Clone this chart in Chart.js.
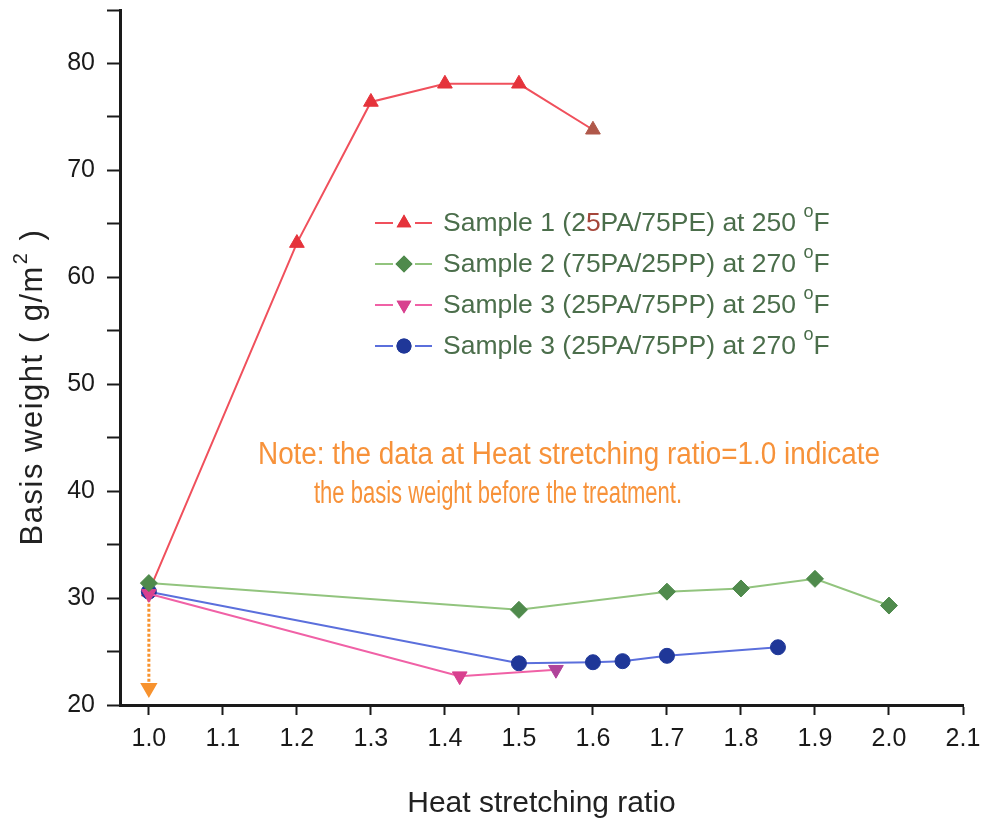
<!DOCTYPE html>
<html>
<head>
<meta charset="utf-8">
<script src="https://cdn.jsdelivr.net/npm/chart.js@4.4.1/dist/chart.umd.min.js"></script>
<style>
  html, body { margin: 0; padding: 0; background: #ffffff; }
  #wrap { width: 987px; height: 822px; position: relative; }
</style>
</head>
<body>
<div id="wrap"><canvas id="c" width="987" height="822"></canvas></div>
<script>
// ---- data ----
const xTickValues = [1.0, 1.1, 1.2, 1.3, 1.4, 1.5, 1.6, 1.7, 1.8, 1.9, 2.0, 2.1];
const yTickLabels = [20, 30, 40, 50, 60, 70, 80];

const s1Label = 'Sample 1 (25PA/75PE) at 250 °F';
const s1X = [1.0, 1.2, 1.3, 1.4, 1.5, 1.6];
const s1Y = [30.6, 63.2, 76.4, 78.1, 78.1, 73.8];

const s2Label = 'Sample 2 (75PA/25PP) at 270 °F';
const s2X = [1.0, 1.5, 1.7, 1.8, 1.9, 2.0];
const s2Y = [31.4, 28.9, 30.6, 30.9, 31.8, 29.3];

const s3Label = 'Sample 3 (25PA/75PP) at 250 °F';
const s3X = [1.0, 1.42, 1.55];
const s3Y = [30.4, 22.7, 23.3];

const s4Label = 'Sample 3 (25PA/75PP) at 270 °F';
const s4X = [1.0, 1.5, 1.6, 1.64, 1.7, 1.85];
const s4Y = [30.6, 23.9, 24.0, 24.1, 24.6, 25.4];

const arrowX = [1.0, 1.0];
const arrowY = [30.4, 21.6];

const noteLines = ['Note: the data at Heat stretching ratio=1.0 indicate', 'the basis weight before the treatment.'];
const yTitle = 'Basis weight ( g/m';
const yTitleSup = '2';
const yTitleEnd = ' )';

function pts(xs, ys) { return xs.map((x, i) => ({ x: x, y: ys[i] })); }

const FONT = "'Liberation Sans', Arial, sans-serif";

const styles = [
  { line: '#f0505c', fill: '#e5333b', last: '#b0584a', shape: 'triangle', r: 8.5, rot: 0 },
  { line: '#92c47e', fill: '#4f8a4c', last: '#4f8a4c', shape: 'rectRot', r: 8.5, rot: 0 },
  { line: '#f061a6', fill: '#d8418f', last: '#b0439a', shape: 'triangle', r: 8.5, rot: 180 },
  { line: '#5b6fdc', fill: '#1f3798', last: '#1f3798', shape: 'circle', r: 7.5, rot: 0 }
];

const datasets = [
  { label: s2Label, data: pts(s2X, s2Y), st: styles[1] },
  { label: s3Label, data: pts(s3X, s3Y), st: styles[2] },
  { label: s4Label, data: pts(s4X, s4Y), st: styles[3] },
  { label: s1Label, data: pts(s1X, s1Y), st: styles[0] }
].map(d => {
  const n = d.data.length;
  const pc = (c) => (c.dataIndex === n - 1 ? d.st.last : d.st.fill);
  return {
    label: d.label,
    data: d.data,
    showLine: true,
    borderColor: d.st.line,
    borderWidth: 2,
    backgroundColor: d.st.fill,
    pointBackgroundColor: pc,
    pointBorderColor: pc,
    pointBorderWidth: 1,
    pointStyle: d.st.shape,
    pointRadius: d.st.r,
    pointRotation: d.st.rot,
    tension: 0
  };
});

datasets.push({
  label: 'arrow',
  data: pts(arrowX, arrowY),
  showLine: true,
  borderColor: '#f7922e',
  borderWidth: 3,
  borderDash: [3, 2],
  pointStyle: 'triangle',
  pointRotation: 180,
  pointRadius: [0, 7],
  pointBackgroundColor: '#f7922e',
  pointBorderColor: '#f7922e'
});

const overlayPlugin = {
  id: 'overlay',
  afterDatasetsDraw(chart) {
    const ctx = chart.ctx;
    ctx.save();
    // legend
    const rowsY = [223, 264, 305, 346];
    const lx0 = 375, lx1 = 432, mx = 404, tx = 443;
    const legendTexts = [
      ['Sample 1 (2', '5', 'PA/75PE) at 250 '],
      ['Sample 2 (75PA/25PP) at 270 '],
      ['Sample 3 (25PA/75PP) at 250 '],
      ['Sample 3 (25PA/75PP) at 270 ']
    ];
    rowsY.forEach((y, i) => {
      const st = styles[i];
      ctx.strokeStyle = st.line;
      ctx.lineWidth = 2;
      ctx.beginPath(); ctx.moveTo(lx0, y); ctx.lineTo(mx - 11, y); ctx.stroke();
      ctx.beginPath(); ctx.moveTo(mx + 11, y); ctx.lineTo(lx1, y); ctx.stroke();
      ctx.fillStyle = st.fill;
      Chart.helpers.drawPoint(ctx, { pointStyle: st.shape, radius: st.r, rotation: st.rot, borderWidth: 0 }, mx, y);
      ctx.fill();
      ctx.font = '26.5px ' + FONT;
      ctx.textBaseline = 'middle';
      ctx.textAlign = 'left';
      let x = tx;
      const parts = legendTexts[i];
      parts.forEach((p, k) => {
        ctx.fillStyle = (parts.length === 3 && k === 1) ? '#a5463a' : '#4b6e4b';
        ctx.fillText(p, x, y + 1);
        x += ctx.measureText(p).width;
      });
      ctx.fillStyle = '#4b6e4b';
      ctx.font = '18px ' + FONT;
      ctx.fillText('o', x, y - 11);
      x += ctx.measureText('o').width;
      ctx.font = '26.5px ' + FONT;
      ctx.fillText('F', x, y + 1);
    });
    // note
    ctx.fillStyle = '#f7923a';
    ctx.font = '31px ' + FONT;
    ctx.textAlign = 'center';
    ctx.textBaseline = 'middle';
    ctx.fillText(noteLines[0], 569, 455, 622);
    ctx.fillText(noteLines[1], 498, 494, 368);
    // y title
    ctx.save();
    ctx.translate(33, 388);
    ctx.rotate(-Math.PI / 2);
    ctx.fillStyle = '#222222';
    ctx.textAlign = 'left';
    ctx.textBaseline = 'middle';
    try { ctx.letterSpacing = '1.5px'; } catch (e) {}
    ctx.font = '31px ' + FONT;
    const w1 = ctx.measureText(yTitle).width;
    ctx.font = '20px ' + FONT;
    const w2 = ctx.measureText(yTitleSup).width;
    ctx.font = '31px ' + FONT;
    const w3 = ctx.measureText(yTitleEnd).width;
    let sx = -(w1 + w2 + w3) / 2;
    ctx.fillText(yTitle, sx, 0);
    sx += w1;
    ctx.font = '20px ' + FONT;
    ctx.fillText(yTitleSup, sx + 1, -12);
    sx += w2 + 2;
    ctx.font = '31px ' + FONT;
    ctx.fillText(yTitleEnd, sx, 0);
    ctx.restore();
    ctx.restore();
  }
};

new Chart(document.getElementById('c'), {
  type: 'scatter',
  data: { datasets: datasets },
  plugins: [overlayPlugin],
  options: {
    responsive: false,
    animation: false,
    devicePixelRatio: 1,
    layout: { padding: { top: 10, right: 24, left: 0, bottom: 0 } },
    plugins: {
      legend: { display: false },
      tooltip: { enabled: false }
    },
    scales: {
      x: {
        type: 'linear',
        min: 0.961,
        max: 2.1,
        border: { display: true, color: '#1a1a1a', width: 3 },
        grid: { drawOnChartArea: false, drawTicks: true, tickLength: 10, tickColor: '#1a1a1a', tickWidth: 2 },
        afterBuildTicks(scale) { scale.ticks = xTickValues.map(v => ({ value: v })); },
        afterFit(scale) { scale.height = 117; scale.paddingLeft = 0; scale.paddingRight = 0; },
        ticks: {
          autoSkip: false,
          maxRotation: 0,
          padding: 9,
          color: '#1a1a1a',
          font: { family: FONT, size: 25 },
          callback: (v) => Number(v).toFixed(1)
        },
        title: {
          display: true,
          text: 'Heat stretching ratio',
          color: '#222222',
          font: { family: FONT, size: 30 },
          padding: { top: 10, bottom: 0 }
        }
      },
      y: {
        type: 'linear',
        min: 20,
        max: 85,
        border: { display: true, color: '#1a1a1a', width: 3 },
        grid: { drawOnChartArea: false, drawTicks: true, tickLength: 13, tickColor: '#1a1a1a', tickWidth: 2 },
        afterBuildTicks(scale) {
          const t = [];
          for (let v = 20; v <= 85; v += 5) t.push({ value: v });
          scale.ticks = t;
        },
        afterFit(scale) { scale.width = 120; scale.paddingTop = 0; scale.paddingBottom = 0; },
        ticks: {
          autoSkip: false,
          padding: 12,
          color: '#1a1a1a',
          font: { family: FONT, size: 25 },
          callback: (v) => yTickLabels.includes(v) ? String(v) : ''
        },
        title: { display: false }
      }
    }
  }
});
</script>
</body>
</html>
